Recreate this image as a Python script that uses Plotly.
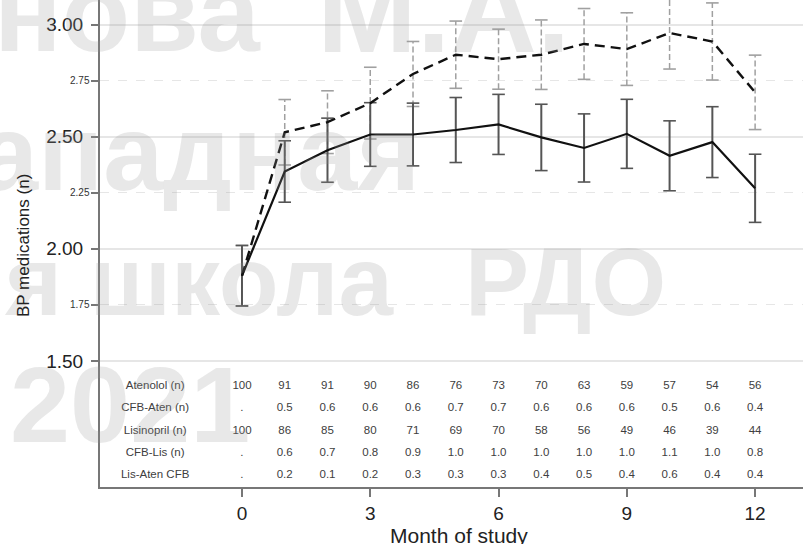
import plotly.graph_objects as go

# Month of study
months = list(range(13))

# Mean BP medications (n) and error half-widths per arm
aten_mean = [1.88, 2.345, 2.44, 2.51, 2.51, 2.53, 2.555, 2.497, 2.45, 2.513, 2.415, 2.476, 2.27]
aten_err = [0.135, 0.137, 0.143, 0.142, 0.14, 0.145, 0.134, 0.148, 0.152, 0.154, 0.156, 0.158, 0.152]
lis_mean = [1.88, 2.52, 2.565, 2.65, 2.78, 2.866, 2.846, 2.866, 2.914, 2.891, 2.963, 2.925, 2.698]
lis_err = [0.135, 0.146, 0.14, 0.16, 0.145, 0.15, 0.134, 0.155, 0.158, 0.162, 0.161, 0.172, 0.166]

# Table underneath the curves
row_labels = ["Atenolol (n)", "CFB-Aten (n)", "Lisinopril (n)", "CFB-Lis (n)", "Lis-Aten CFB"]
aten_n = ["100", "91", "91", "90", "86", "76", "73", "70", "63", "59", "57", "54", "56"]
cfb_aten = [".", "0.5", "0.6", "0.6", "0.6", "0.7", "0.7", "0.6", "0.6", "0.6", "0.5", "0.6", "0.4"]
lis_n = ["100", "86", "85", "80", "71", "69", "70", "58", "56", "49", "46", "39", "44"]
cfb_lis = [".", "0.6", "0.7", "0.8", "0.9", "1.0", "1.0", "1.0", "1.0", "1.0", "1.1", "1.0", "0.8"]
lis_aten_cfb = [".", "0.2", "0.1", "0.2", "0.3", "0.3", "0.3", "0.4", "0.5", "0.4", "0.6", "0.4", "0.4"]
table_rows = [aten_n, cfb_aten, lis_n, cfb_lis, lis_aten_cfb]

major_ticks = [1.50, 2.00, 2.50, 3.00]
minor_ticks = [1.75, 2.25, 2.75]
month_ticks = [0, 3, 6, 9, 12]

# ---- geometry of the figure (pixels) ----
W, H = 803, 544
ML, MR, MT, MB = 100, 0, 0, 57
PW, PH = W - ML - MR, H - MT - MB
X_RANGE = [-3.32, 13.12]
Y_RANGE = [0.9375, 3.11]


def px_to_paper_x(px):
    return (px - ML) / PW


def px_to_paper_y(py):
    return (H - MB - py) / PH


def px_to_data_y(py):
    return Y_RANGE[0] + (H - MB - py) / PH * (Y_RANGE[1] - Y_RANGE[0])


row_y = [px_to_data_y(p) for p in (386, 408.5, 431, 453, 475.5)]
label_x = -2.03

fig = go.Figure()


def error_segments(means, errs):
    xs, ys = [], []
    for m, v, e in zip(months, means, errs):
        xs += [m, m, None]
        ys += [v - e, v + e, None]
    return xs, ys


def add_error_bars(means, errs, color, dash, width):
    xs, ys = error_segments(means, errs)
    fig.add_trace(go.Scatter(x=xs, y=ys, mode="lines",
                             line=dict(color=color, width=width, dash=dash),
                             hoverinfo="skip"))
    caps_y = [v - e for v, e in zip(means, errs)] + [v + e for v, e in zip(means, errs)]
    fig.add_trace(go.Scatter(x=months + months, y=caps_y, mode="markers",
                             marker=dict(symbol="line-ew", size=9,
                                         line=dict(color=color, width=1.6)),
                             hoverinfo="skip"))


add_error_bars(lis_mean, lis_err, "#a0a0a0", "6px,3px", 1.5)
add_error_bars(aten_mean, aten_err, "#555555", "solid", 2)

fig.add_trace(go.Scatter(x=months, y=lis_mean, mode="lines", name="Lisinopril",
                         line=dict(color="#111111", width=2.4, dash="10px,6px")))
fig.add_trace(go.Scatter(x=months, y=aten_mean, mode="lines", name="Atenolol",
                         line=dict(color="#111111", width=2.2)))

# Table rows: label on the left, one value per month
for lbl, vals, y in zip(row_labels, table_rows, row_y):
    fig.add_trace(go.Scatter(x=[label_x] + months, y=[y] * (len(months) + 1),
                             mode="text", text=[lbl] + vals,
                             textposition="middle center",
                             textfont=dict(family="Liberation Sans", size=11.5, color="#404040"),
                             hoverinfo="skip"))

annotations = []

# Watermark pieces: (text, right edge px, baseline px, font size)
WM_COLOR = "rgba(150,150,150,0.22)"
for txt, right_px, base_py, size in [("нова", 262, 52, 112), ("М.А.", 572, 52, 120),
                                     ("ападная", 422, 190, 108),
                                     ("я школа", 397, 315, 98), ("РДО", 668, 315, 96),
                                     ("2021", 252, 442, 108)]:
    annotations.append(dict(text=txt, xref="paper", yref="paper",
                            x=px_to_paper_x(right_px), y=px_to_paper_y(base_py - 0.35 * size),
                            xanchor="right", yanchor="middle", showarrow=False,
                            font=dict(family="Liberation Sans", size=size,
                                      color=WM_COLOR, weight="bold")))

# Small labels for the minor ticks
for v in minor_ticks:
    annotations.append(dict(text=f"{v:.2f}", xref="paper", yref="y",
                            x=px_to_paper_x(92), y=v, xanchor="right", yanchor="middle",
                            showarrow=False,
                            font=dict(family="Liberation Sans", size=10, color="#333333")))

# Axis titles
annotations.append(dict(text="BP medications (n)", xref="paper", yref="paper",
                        x=px_to_paper_x(23), y=px_to_paper_y(246), textangle=-90,
                        xanchor="center", yanchor="middle", showarrow=False,
                        font=dict(family="Liberation Sans", size=17, color="#222222")))
annotations.append(dict(text="Month of study", xref="paper", yref="paper",
                        x=px_to_paper_x(459), y=px_to_paper_y(535),
                        xanchor="center", yanchor="middle", showarrow=False,
                        font=dict(family="Liberation Sans", size=21, color="#222222")))

fig.update_layout(
    width=W, height=H,
    margin=dict(l=ML, r=MR, t=MT, b=MB),
    plot_bgcolor="white", paper_bgcolor="white",
    showlegend=False,
    annotations=annotations,
    xaxis=dict(range=X_RANGE, tickvals=month_ticks, ticktext=[str(m) for m in month_ticks],
               ticks="outside", ticklen=8, tickwidth=1.5, tickcolor="#777777",
               tickfont=dict(family="Liberation Sans", size=19, color="#222222"),
               showline=True, linecolor="#777777", linewidth=2,
               showgrid=False, zeroline=False),
    yaxis=dict(range=Y_RANGE, tickvals=major_ticks, ticktext=[f"{v:.2f}" for v in major_ticks],
               ticks="outside", ticklen=7, tickwidth=1.5, tickcolor="#777777",
               tickfont=dict(family="Liberation Sans", size=19, color="#222222"),
               ticklabelstandoff=4,
               showline=True, linecolor="#777777", linewidth=2,
               showgrid=True, gridcolor="#e6e6e6", gridwidth=1.5, zeroline=False,
               minor=dict(tickvals=minor_ticks, ticks="outside", ticklen=7,
                          tickwidth=1.5, tickcolor="#777777",
                          showgrid=True, gridcolor="#e6e6e6", gridwidth=1.2, griddash="dash")),
)

fig.write_html("out.html")
